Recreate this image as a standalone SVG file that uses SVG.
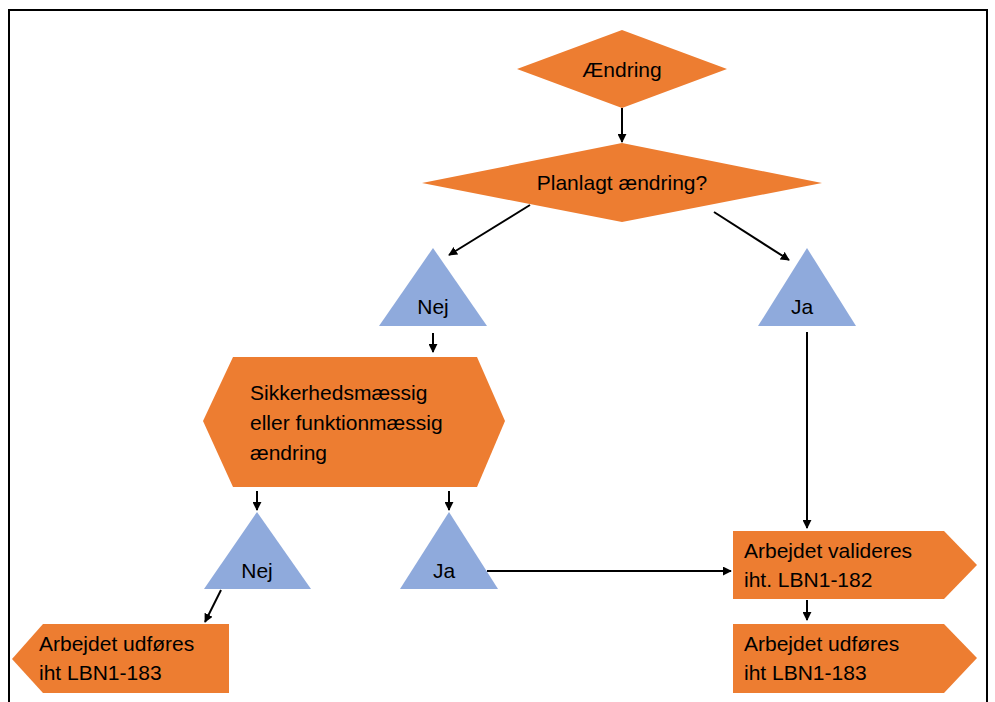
<svg xmlns="http://www.w3.org/2000/svg" width="995" height="702" viewBox="0 0 995 702">
<style>
.o{fill:#ED7D31}
.b{fill:#8FAADC}
text{font-family:"Liberation Sans",Arial,sans-serif;font-size:21px;fill:#000}
.c{stroke:#000;stroke-width:2;fill:none;marker-end:url(#ah)}
</style>
<defs>
<marker id="ah" viewBox="0 0 10 10" refX="9" refY="5" markerWidth="4.5" markerHeight="4.5" orient="auto" markerUnits="strokeWidth">
<path d="M0,0 L10,5 L0,10 z" fill="#000"/>
</marker>
</defs>
<rect width="995" height="702" fill="#fff"/>
<path d="M9,710 V10 H987 V710" fill="none" stroke="#000" stroke-width="2"/>
<g id="connectors">
<path class="c" d="M622,108 V142"/>
<path class="c" d="M530,205 L449,255"/>
<path class="c" d="M714,212 L789,260"/>
<path class="c" d="M433,333 V352"/>
<path class="c" d="M257,491 V510"/>
<path class="c" d="M449,491 V510"/>
<path class="c" d="M221,590 L205,622"/>
<path class="c" d="M487,571 H731"/>
<path class="c" d="M807,332 V528"/>
<path class="c" d="M807,600 V620"/>
</g>
<g id="n-aendring">
<polygon class="o" points="517,69 622,30 727,69 622,108"/>
<text x="622" y="77" text-anchor="middle">Ændring</text>
</g>
<g id="n-planlagt">
<polygon class="o" points="422,183 622,143 822,183 622,222"/>
<text x="622" y="190" text-anchor="middle">Planlagt ændring?</text>
</g>
<g id="n-nej1">
<polygon class="b" points="433,248 487,326 379,326"/>
<text x="433" y="314" text-anchor="middle">Nej</text>
</g>
<g id="n-ja1">
<polygon class="b" points="807,248 856,326 758,326"/>
<text x="802" y="314" text-anchor="middle">Ja</text>
</g>
<g id="n-sikkerhed">
<polygon class="o" points="203,421 233,357 477,357 505,421 477,487 233,487"/>
<text x="250" y="400">Sikkerhedsmæssig</text>
<text x="250" y="430">eller funktionmæssig</text>
<text x="250" y="460">ændring</text>
</g>
<g id="n-nej2">
<polygon class="b" points="257,512 311,589 204,589"/>
<text x="257" y="578" text-anchor="middle">Nej</text>
</g>
<g id="n-ja2">
<polygon class="b" points="449,512 498,589 400,589"/>
<text x="444" y="578" text-anchor="middle">Ja</text>
</g>
<g id="n-udfoeres-left">
<polygon class="o" points="12,659 43,624 229,624 229,693 43,693"/>
<text x="39" y="651">Arbejdet udføres</text>
<text x="39" y="680">iht LBN1-183</text>
</g>
<g id="n-valideres">
<polygon class="o" points="733,531 944,531 977,565 944,599 733,599"/>
<text x="744" y="558">Arbejdet valideres</text>
<text x="744" y="587">iht. LBN1-182</text>
</g>
<g id="n-udfoeres-right">
<polygon class="o" points="733,624 944,624 977,658 944,693 733,693"/>
<text x="744" y="651">Arbejdet udføres</text>
<text x="744" y="680">iht LBN1-183</text>
</g>
</svg>
